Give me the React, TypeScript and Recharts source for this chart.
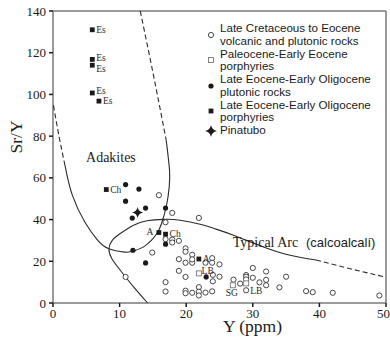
import React from "react";
import { ScatterChart, Scatter, XAxis, YAxis, ReferenceLine } from "recharts";

const xTicks = [0, 10, 20, 30, 40, 50];
const yTicks = [0, 20, 40, 60, 80, 100, 120, 140];

// Late Cretaceous to Eocene volcanic and plutonic rocks (open circles)
const lateCretaceous = [
  [10.9, 12.5], [14.9, 24.2], [15.9, 51.7], [16.9, 38.7], [17.9, 43.2], [21.9, 40.8],
  [16.9, 30.6], [17.9, 30.4], [17.9, 29.0], [18.9, 29.8], [16.9, 10.0], [16.9, 5.5],
  [18.9, 21.0], [18.9, 15.4], [19.9, 26.2], [19.9, 24.6], [20.9, 23.1], [19.9, 19.3],
  [20.9, 19.3], [20.9, 20.9], [19.9, 12.5], [19.9, 5.9], [19.9, 4.7], [20.9, 4.9],
  [21.9, 7.6], [21.9, 5.4], [21.9, 3.6], [22.9, 5.0], [23.9, 5.6], [23.9, 21.5],
  [22.9, 19.3], [23.9, 19.3], [25.0, 18.5], [24.0, 13.5], [25.0, 12.6], [24.0, 10.4],
  [27.1, 11.2], [28.1, 9.3], [29.0, 13.4], [29.0, 12.6], [29.0, 11.3], [29.0, 6.1],
  [30.0, 16.8], [30.0, 12.1], [31.0, 9.9], [32.0, 15.1], [32.0, 11.1], [32.0, 8.5],
  [34.0, 7.5], [35.0, 12.6], [38.0, 5.7], [39.0, 5.2], [42.0, 4.9], [49.0, 3.6],
];

// Paleocene-Early Eocene porphyries (open squares)
const paleocenePorphyries = [[21.9, 14.2], [27.0, 8.5], [29.0, 9.4]];

// Late Eocene-Early Oligocene plutonic rocks (filled circles)
const lateEocenePlutonic = [
  [10.9, 56.8], [12.9, 54.6], [10.9, 48.8], [13.9, 45.5], [16.9, 45.5],
  [11.9, 40.7], [16.9, 28.2], [12.0, 25.3], [13.9, 19.2], [23.0, 12.5],
];

// Late Eocene-Early Oligocene porphyries (filled squares)
const lateEocenePorphyries = [
  [5.9, 131], [5.9, 116.8], [5.9, 114], [5.9, 100.7], [6.9, 96.8],
  [8.0, 54.4], [15.9, 33.8], [16.9, 33.0], [21.9, 21.1],
];

const pinatubo = [[12.7, 43.4]];

// field boundaries
const adakiteTopDashed = [[13.1, 140], [15.1, 109], [17.0, 78]];
const adakiteSolid = [
  [17.0, 78], [17.5, 63.5], [17.45, 55.7], [17.1, 47.7], [16.3, 38.1], [15.6, 33.3],
  [14.8, 30.1], [13.6, 26.9], [12.1, 24.9], [10.8, 24.4], [8.3, 26.1], [6.6, 30.5],
  [4.8, 38.7], [2.9, 51.7], [1.8, 66],
];
const adakiteLeftDashed = [[1.8, 66], [0.9, 80], [0, 96]];
const arcSolid = [
  [14.2, 0], [12.1, 7.7], [10.1, 15.7], [8.8, 21.5], [8.4, 26], [8.9, 30], [10.1, 33.3],
  [12.1, 37.3], [14.1, 39.4], [16.6, 40.1], [19.1, 39.7], [22.1, 37.8], [24.1, 35.8],
  [27.1, 32.5], [31.6, 26.9], [35.6, 22.9], [39.5, 20.6],
];
const arcDashed = [[39.5, 20.6], [44.5, 16.5], [49.8, 12.5]];

const sampleLabels = [
  { x: 5.9, y: 131, text: "Es", side: "right" },
  { x: 5.9, y: 116.8, text: "Es", side: "upright" },
  { x: 5.9, y: 114, text: "Es", side: "downright" },
  { x: 5.9, y: 100.7, text: "Es", side: "upright" },
  { x: 6.9, y: 96.8, text: "Es", side: "right" },
  { x: 8.0, y: 54.4, text: "Ch", side: "right" },
  { x: 16.9, y: 33.0, text: "Ch", side: "right" },
  { x: 15.9, y: 33.8, text: "A", side: "left" },
  { x: 21.9, y: 21.1, text: "A", side: "right" },
  { x: 23.0, y: 12.5, text: "LB", side: "above" },
  { x: 29.0, y: 6.1, text: "LB", side: "right" },
  { x: 27.0, y: 8.5, text: "SG", side: "below" },
];

const fieldNames = [
  { x: 8.7, y: 70, text: "Adakites", font: "serif" },
  { x: 31.9, y: 28.8, text: "Typical Arc", font: "serif" },
  { x: 43.2, y: 28.8, text: "(calcoalcalí)", font: "sans" },
];

const legendItems = [
  { kind: "openCircle", lines: ["Late Cretaceous to Eocene", "volcanic and plutonic rocks"] },
  { kind: "openSquare", lines: ["Paleocene-Early Eocene", "porphyries"] },
  { kind: "dot", lines: ["Late Eocene-Early Oligocene", "plutonic rocks"] },
  { kind: "square", lines: ["Late Eocene-Early Oligocene", "porphyries"] },
  { kind: "star", lines: ["Pinatubo"] },
];

const SERIF = '"Liberation Serif", "Times New Roman", serif';
const SANS = '"Liberation Sans", Arial, sans-serif';
const INK = "#1a1a1a";
const FRAME = "#7a7a7a";

const pts = (arr: number[][]) => arr.map(([x, y]) => ({ x, y }));

const starPath = (cx: number, cy: number, s: number) =>
  `M${cx},${cy - s} Q${cx + s * 0.15},${cy - s * 0.15} ${cx + s},${cy} ` +
  `Q${cx + s * 0.15},${cy + s * 0.15} ${cx},${cy + s} ` +
  `Q${cx - s * 0.15},${cy + s * 0.15} ${cx - s},${cy} ` +
  `Q${cx - s * 0.15},${cy - s * 0.15} ${cx},${cy - s} Z`;

function Marker({ kind, cx, cy }: { kind: string; cx: number; cy: number }) {
  switch (kind) {
    case "openCircle":
      return <circle cx={cx} cy={cy} r={2.6} fill="#fff" stroke="#333" strokeWidth={0.9} />;
    case "openSquare":
      return <rect x={cx - 2.5} y={cy - 2.5} width={5} height={5} fill="#fff" stroke="#777" strokeWidth={0.9} />;
    case "dot":
      return <circle cx={cx} cy={cy} r={2.6} fill={INK} />;
    case "square":
      return <rect x={cx - 2.4} y={cy - 2.4} width={4.8} height={4.8} fill={INK} />;
    default:
      return <path d={starPath(cx, cy, 6)} fill={INK} />;
  }
}

const hidden = () => <g />;

const labelOffset: Record<string, { dx: number; dy: number; anchor: string }> = {
  right: { dx: 4, dy: 3.3, anchor: "start" },
  upright: { dx: 4, dy: 1.5, anchor: "start" },
  downright: { dx: 4, dy: 6.5, anchor: "start" },
  left: { dx: -5.5, dy: 2.2, anchor: "end" },
  above: { dx: 1.5, dy: -2.8, anchor: "middle" },
  below: { dx: -1, dy: 10.8, anchor: "middle" },
};

function SampleLabel(p: any) {
  const o = labelOffset[p.payload.side];
  return (
    <text x={p.cx + o.dx} y={p.cy + o.dy} textAnchor={o.anchor} fontFamily={SERIF} fontSize={9.5} fill="#2a2a2a">
      {p.payload.text}
    </text>
  );
}

function FieldName(p: any) {
  const serif = p.payload.font === "serif";
  return (
    <text
      x={p.cx}
      y={p.cy}
      textAnchor="middle"
      dominantBaseline="central"
      fontFamily={serif ? SERIF : SANS}
      fontSize={serif ? 14 : 13}
      fill={INK}
    >
      {p.payload.text}
    </text>
  );
}

function LegendBox() {
  return (
    <div
      style={{
        position: "absolute",
        left: 204,
        top: 22,
        fontFamily: SANS,
        fontSize: 11.6,
        lineHeight: "12.6px",
        color: INK,
      }}
    >
      {legendItems.map((it) => (
        <div key={it.lines[0] + it.kind} style={{ position: "relative", paddingLeft: 16, marginBottom: 0.4 }}>
          <svg width={14} height={14} style={{ position: "absolute", left: 0, top: it.lines.length * 6.3 - 7 }}>
            <Marker kind={it.kind} cx={7} cy={7} />
          </svg>
          {it.lines.map((l) => (
            <div key={l} style={{ whiteSpace: "nowrap" }}>{l}</div>
          ))}
        </div>
      ))}
    </div>
  );
}

const curveLine = { stroke: "#2a2a2a", strokeWidth: 1.1 };
const dashedLine = { ...curveLine, strokeDasharray: "5 3" };

export default function App() {
  return (
    <div style={{ position: "absolute", left: 0, top: 0, width: 390, height: 342, background: "#fff" }}>
      <ScatterChart width={390} height={342} margin={{ top: 11, right: 4, bottom: 0, left: 0 }}>
        <XAxis
          type="number"
          dataKey="x"
          domain={[0, 50]}
          ticks={xTicks}
          height={39}
          tickSize={4}
          tickMargin={2}
          stroke={FRAME}
          strokeWidth={1.5}
          tick={{ fill: INK, fontSize: 13, fontFamily: SERIF }}
          tickLine={{ stroke: INK }}
          label={{ value: "Y (ppm)", position: "insideBottom", offset: 10, dx: 33, fill: INK, fontSize: 17.5, fontFamily: SERIF }}
        />
        <YAxis
          type="number"
          dataKey="y"
          domain={[0, 140]}
          ticks={yTicks}
          width={53}
          tickSize={4}
          tickMargin={3}
          stroke={FRAME}
          strokeWidth={1.5}
          tick={{ fill: INK, fontSize: 13, fontFamily: SERIF }}
          tickLine={{ stroke: INK }}
          label={{ value: "Sr/Y", angle: -90, position: "center", dx: -10.5, dy: -20, fill: INK, fontSize: 17.5, fontFamily: SERIF }}
        />
        <ReferenceLine y={140} stroke={FRAME} strokeWidth={1.5} />
        <ReferenceLine x={50} stroke={FRAME} strokeWidth={1.5} />

        <Scatter data={pts(adakiteTopDashed)} line={dashedLine} lineJointType="natural" shape={hidden} isAnimationActive={false} />
        <Scatter data={pts(adakiteSolid)} line={curveLine} lineJointType="natural" shape={hidden} isAnimationActive={false} />
        <Scatter data={pts(adakiteLeftDashed)} line={dashedLine} lineJointType="natural" shape={hidden} isAnimationActive={false} />
        <Scatter data={pts(arcSolid)} line={curveLine} lineJointType="natural" shape={hidden} isAnimationActive={false} />
        <Scatter data={pts(arcDashed)} line={dashedLine} lineJointType="linear" shape={hidden} isAnimationActive={false} />

        <Scatter data={fieldNames} shape={FieldName} isAnimationActive={false} />

        <Scatter data={pts(lateCretaceous)} shape={(p: any) => <Marker kind="openCircle" cx={p.cx} cy={p.cy} />} isAnimationActive={false} />
        <Scatter data={pts(paleocenePorphyries)} shape={(p: any) => <Marker kind="openSquare" cx={p.cx} cy={p.cy} />} isAnimationActive={false} />
        <Scatter data={pts(lateEocenePlutonic)} shape={(p: any) => <Marker kind="dot" cx={p.cx} cy={p.cy} />} isAnimationActive={false} />
        <Scatter data={pts(lateEocenePorphyries)} shape={(p: any) => <Marker kind="square" cx={p.cx} cy={p.cy} />} isAnimationActive={false} />
        <Scatter data={pts(pinatubo)} shape={(p: any) => <path d={starPath(p.cx, p.cy, 5.5)} fill={INK} />} isAnimationActive={false} />

        <Scatter data={sampleLabels} shape={SampleLabel} isAnimationActive={false} />
      </ScatterChart>
      <LegendBox />
    </div>
  );
}
